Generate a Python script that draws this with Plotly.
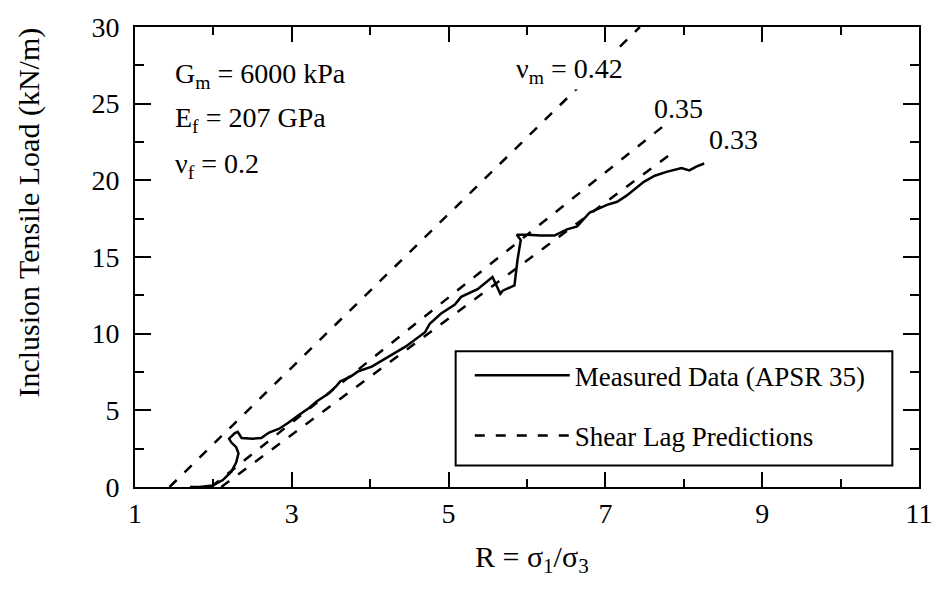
import plotly.graph_objects as go

# Measured data (APSR 35)
meas_R = [1.70, 1.82, 1.99, 2.12, 2.23, 2.29, 2.32, 2.29, 2.23, 2.20, 2.27, 2.31, 2.36, 2.50, 2.61,
          2.71, 2.84, 2.96, 3.09, 3.22, 3.32, 3.47, 3.57, 3.62, 3.75, 3.85, 4.02, 4.23, 4.45,
          4.70, 4.76, 4.90, 5.08, 5.16, 5.37, 5.56, 5.66, 5.69, 5.84, 5.88, 5.92, 5.87, 6.01,
          6.17, 6.35, 6.51, 6.64, 6.80, 7.02, 7.15, 7.27, 7.49, 7.63, 7.78, 7.97, 8.07, 8.16, 8.26]
meas_T = [0.00, 0.00, 0.10, 0.45, 1.00, 1.60, 2.20, 2.60, 2.90, 3.15, 3.50, 3.60, 3.20, 3.15, 3.20,
          3.55, 3.80, 4.20, 4.70, 5.15, 5.60, 6.10, 6.60, 6.90, 7.20, 7.55, 7.85, 8.50, 9.15,
          10.1, 10.65, 11.3, 11.9, 12.4, 12.9, 13.7, 12.6, 12.8, 13.15, 14.85, 16.1, 16.45, 16.45,
          16.4, 16.4, 16.8, 17.0, 17.9, 18.4, 18.6, 19.0, 19.9, 20.3, 20.55, 20.8, 20.65, 20.9, 21.1]

# Shear lag predictions (end points of straight lines)
pred_labels = ["0.42", "0.35", "0.33"]
pred_R = [[1.44, 7.44], [1.97, 7.73], [2.10, 7.91]]
pred_T = [[0.0, 30.0], [0.0, 23.5], [0.0, 22.0]]

FONT = "Liberation Serif"

fig = go.Figure()
fig.add_trace(go.Scatter(x=meas_R, y=meas_T, mode="lines",
                         line=dict(color="black", width=2.5),
                         name="Measured Data (APSR 35)", legendgroup="a"))
for i, lab in enumerate(pred_labels):
    fig.add_trace(go.Scatter(x=pred_R[i], y=pred_T[i], mode="lines",
                             line=dict(color="black", width=2.5, dash="10px,11px"),
                             name="Shear Lag Predictions", legendgroup="b",
                             showlegend=(i == 0)))

ann = []
ann.append(dict(x=1.48, y=26.84, xref="x", yref="y", text="G<sub>m</sub> = 6000 kPa",
                xanchor="left", yanchor="middle", showarrow=False))
ann.append(dict(x=1.48, y=24.0, xref="x", yref="y", text="E<sub>f</sub> = 207 GPa",
                xanchor="left", yanchor="middle", showarrow=False))
ann.append(dict(x=1.48, y=20.97, xref="x", yref="y", text="ν<sub>f</sub> = 0.2",
                xanchor="left", yanchor="middle", showarrow=False))
ann.append(dict(x=5.84, y=27.16, xref="x", yref="y", text="ν<sub>m</sub> = " + pred_labels[0],
                xanchor="left", yanchor="middle", showarrow=False, bgcolor="white"))
ann.append(dict(x=7.59, y=24.7, xref="x", yref="y", text=pred_labels[1],
                xanchor="left", yanchor="middle", showarrow=False))
ann.append(dict(x=8.29, y=22.65, xref="x", yref="y", text=pred_labels[2],
                xanchor="left", yanchor="middle", showarrow=False))
# axis titles
ann.append(dict(x=-0.1356, y=0.596, xref="paper", yref="paper",
                text="Inclusion Tensile Load (kN/m)", textangle=-90,
                font=dict(size=30), xanchor="center", yanchor="middle", showarrow=False))
ann.append(dict(x=0.506, y=-0.157, xref="paper", yref="paper",
                text="R = σ<sub>1</sub>/σ<sub>3</sub>",
                font=dict(size=30), xanchor="center", yanchor="middle", showarrow=False))

fig.update_layout(
    width=944, height=592,
    margin=dict(l=135, r=20, t=22, b=105),
    paper_bgcolor="white", plot_bgcolor="white",
    font=dict(family=FONT, size=28, color="black"),
    annotations=ann,
    showlegend=True,
    legend=dict(x=0.427, y=0.295, xanchor="left", yanchor="top",
                bgcolor="rgba(0,0,0,0)", borderwidth=0,
                font=dict(size=27), itemwidth=95, tracegroupgap=22,
                traceorder="grouped"),
    shapes=[dict(type="rect", xref="paper", yref="paper",
                 x0=0.409, x1=0.966, y0=0.047, y1=0.295,
                 line=dict(color="black", width=2))],
)
fig.update_xaxes(range=[1, 11], dtick=2, tick0=1, ticks="inside", ticklen=15, tickwidth=2,
                 tickcolor="black", showline=True, linecolor="black", linewidth=2,
                 mirror="ticks", showgrid=False, zeroline=False,
                 tickfont=dict(size=28),
                 minor=dict(dtick=1, ticks="inside", ticklen=8, tickwidth=2, tickcolor="black",
                            showgrid=False))
fig.update_yaxes(range=[0, 30], dtick=5, ticks="inside", ticklen=16, tickwidth=2,
                 tickcolor="black", showline=True, linecolor="black", linewidth=2,
                 mirror="ticks", showgrid=False, zeroline=False,
                 tickfont=dict(size=28), ticklabelstandoff=8,
                 minor=dict(dtick=2.5, ticks="inside", ticklen=9, tickwidth=2, tickcolor="black",
                            showgrid=False))

fig.write_html("out.html")
